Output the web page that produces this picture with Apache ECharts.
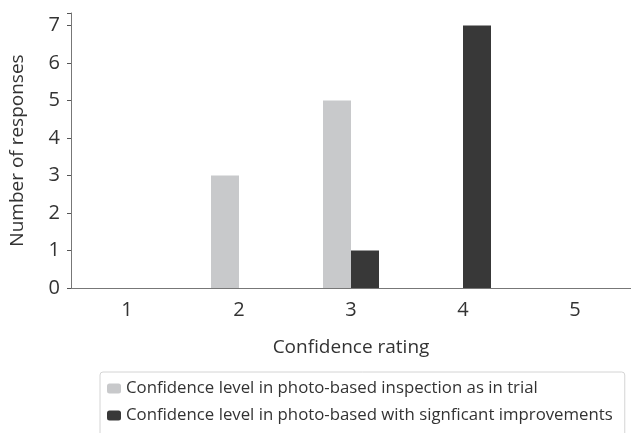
<!DOCTYPE html>
<html><head><meta charset="utf-8">
<script src="https://cdn.jsdelivr.net/npm/echarts@6/dist/echarts.min.js"></script>
<style>html,body{margin:0;padding:0;background:#fff}#c{width:631px;height:433px}</style>
</head><body><div id="c"></div>
<script>
const categories = ['1', '2', '3', '4', '5'];
const seriesNames = ['Confidence level in photo-based inspection as in trial', 'Confidence level in photo-based with signficant improvements'];
const trialValues = [0, 3, 5, 0, 0];
const improvedValues = [0, 0, 1, 7, 0];
const yTicks = [0, 1, 2, 3, 4, 5, 6, 7];

const chart = echarts.init(document.getElementById('c'), null, {renderer: 'canvas'});
const font = "'Open Sans', 'Noto Sans', sans-serif";
chart.setOption({
  animation: false,
  textStyle: {fontFamily: font},
  grid: {left: 68, top: 13, width: 565, height: 275, containLabel: false, show: false},
  legend: {
    orient: 'vertical', left: 100, top: 372, height: 80,
    padding: [8, 12, 12, 7],
    borderColor: '#d4d4d4', borderWidth: 1, borderRadius: 3,
    itemWidth: 14, itemHeight: 10, itemGap: 10,
    textStyle: {fontSize: 16.8, color: '#333', fontFamily: font},
    data: seriesNames
  },
  xAxis: {
    type: 'category', data: categories,
    name: 'Confidence rating', nameLocation: 'middle', nameGap: 50,
    nameTextStyle: {fontSize: 19, color: '#333'},
    axisLine: {lineStyle: {color: '#777', width: 1}},
    axisTick: {alignWithLabel: true, length: 5, lineStyle: {color: '#555'}},
    axisLabel: {fontSize: 20, color: '#333', margin: 12}
  },
  yAxis: {
    type: 'value', min: 0, max: 7.33, interval: 1,
    name: 'Number of responses', nameLocation: 'middle', nameGap: 44, nameRotate: 90,
    nameTextStyle: {fontSize: 19, color: '#333'},
    axisLine: {show: true, lineStyle: {color: '#777', width: 1}},
    axisTick: {show: true, length: 4, lineStyle: {color: '#555'}},
    splitLine: {show: false},
    axisLabel: {fontSize: 20, color: '#333', margin: 11, formatter: v => yTicks.includes(v) ? String(v) : ''}
  },
  series: [
    {name: seriesNames[0], type: 'bar', data: trialValues, barWidth: 28, barGap: '0%',
     itemStyle: {color: '#c8c9cb'}},
    {name: seriesNames[1], type: 'bar', data: improvedValues, barWidth: 28, barGap: '0%',
     itemStyle: {color: '#383838'}}
  ]
});
</script></body></html>
